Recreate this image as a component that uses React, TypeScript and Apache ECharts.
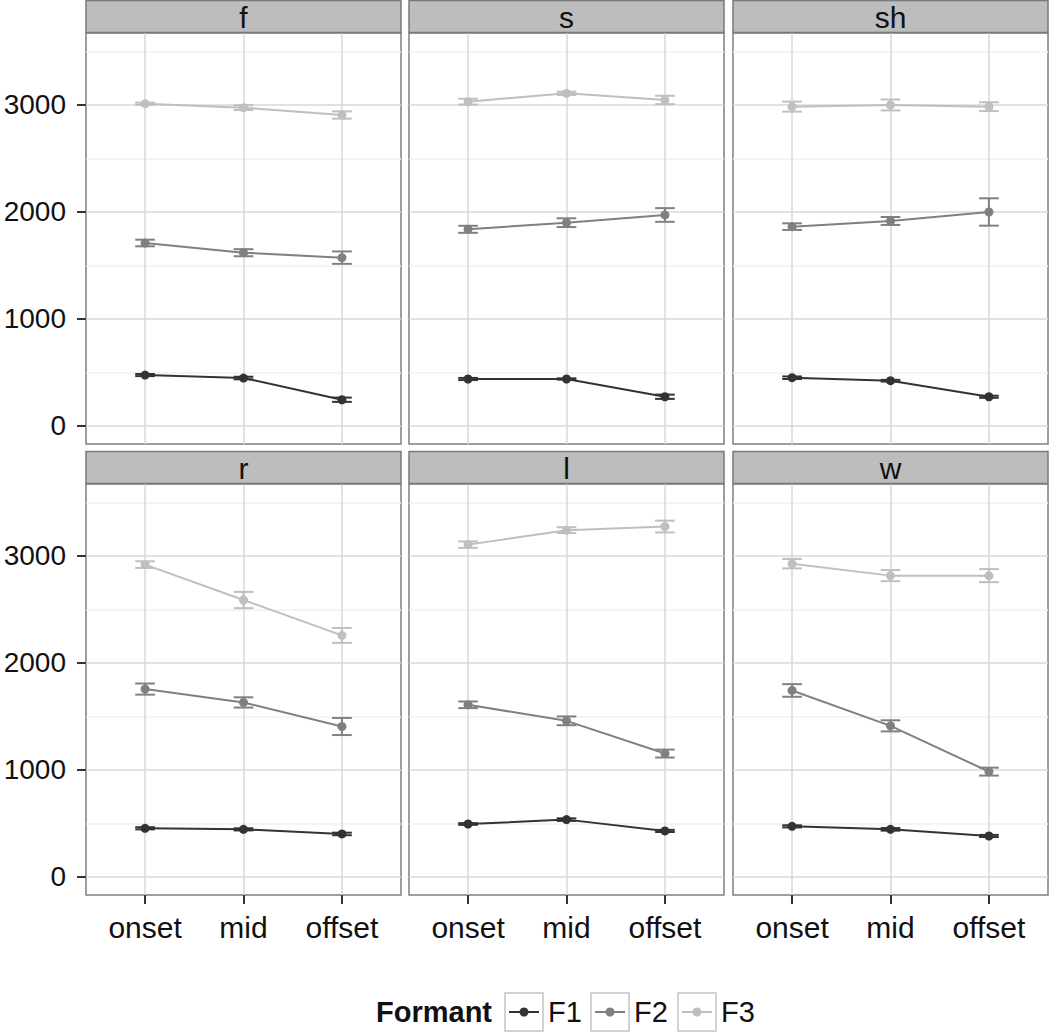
import React, { useEffect, useRef } from "react";
import * as echarts from "echarts";

// ---------- data ----------
const phases = ["onset", "mid", "offset"];
const phaseX = [1, 2, 3];
const consonants = ["f", "s", "sh", "r", "l", "w"];
const formants = ["F1", "F2", "F3"];
const formantColors = ["#333333", "#808080", "#bfbfbf"];
const yTicks = [0, 1000, 2000, 3000];
const yMinor = [500, 1500, 2500, 3500];

// rows: f, s, sh, r, l, w ; columns: onset, mid, offset
const meanF1 = [
  [474, 446, 243],
  [437, 437, 271],
  [449, 421, 271],
  [453, 443, 400],
  [493, 534, 428],
  [471, 443, 381],
];
const errF1 = [
  [10, 12, 20],
  [10, 6, 20],
  [12, 8, 10],
  [10, 10, 12],
  [8, 12, 10],
  [10, 12, 10],
];
const meanF2 = [
  [1709, 1618, 1572],
  [1837, 1899, 1971],
  [1862, 1915, 1999],
  [1755, 1630, 1405],
  [1608, 1458, 1152],
  [1742, 1411, 983],
];
const errF2 = [
  [31, 33, 58],
  [33, 41, 64],
  [31, 37, 128],
  [52, 48, 80],
  [31, 41, 37],
  [59, 52, 37],
];
const meanF3 = [
  [3012, 2975, 2906],
  [3031, 3109, 3047],
  [2984, 3000, 2984],
  [2919, 2588, 2257],
  [3106, 3241, 3275],
  [2928, 2816, 2816],
];
const errF3 = [
  [10, 22, 34],
  [27, 15, 39],
  [47, 51, 41],
  [31, 76, 70],
  [30, 27, 55],
  [44, 52, 61],
];

const means = [meanF1, meanF2, meanF3];
const errs = [errF1, errF2, errF3];

// ---------- layout ----------
const FONT = '"Liberation Sans", Arial, Helvetica, sans-serif';
const FS = 30;
const colLeft = [86, 409, 733];
const panelW = 315;
const rowTop = [33, 484];
const panelH = 411;
const stripH = 32;
const Y_MIN = -171;
const Y_MAX = 3673;

export default function App() {
  const ref = useRef<HTMLDivElement>(null);

  useEffect(() => {
    if (!ref.current) return;
    const chart = echarts.init(ref.current, undefined, { renderer: "svg" });

    const grids: any[] = [];
    const xAxes: any[] = [];
    const yAxes: any[] = [];
    const series: any[] = [];
    const graphics: any[] = [];

    consonants.forEach((c, p) => {
      const row = Math.floor(p / 3);
      const col = p % 3;
      const left = colLeft[col];
      const top = rowTop[row];
      grids.push({
        left,
        top,
        width: panelW,
        height: panelH,
        containLabel: false,
        outerBoundsMode: "none",
        show: true,
        backgroundColor: "#ffffff",
        borderColor: "#7f7f7f",
        borderWidth: 1.5,
      });
      const isBottom = row === 1;
      const isLeft = col === 0;
      xAxes.push({
        type: "value",
        gridIndex: p,
        min: 0.4,
        max: 3.6,
        splitLine: { show: false },
        axisLine: { show: false, onZero: false },
        axisTick: {
          show: isBottom,
          customValues: phaseX,
          length: 9,
          lineStyle: { color: "#333333", width: 2 },
        },
        axisLabel: {
          show: isBottom,
          customValues: phaseX,
          formatter: (v: number) => phases[Math.round(v) - 1] ?? "",
          fontSize: FS,
          fontFamily: FONT,
          color: "#111111",
          margin: 17,
        },
      });
      yAxes.push({
        type: "value",
        gridIndex: p,
        min: Y_MIN,
        max: Y_MAX,
        splitLine: { show: false },
        axisLine: { show: false, onZero: false },
        axisTick: {
          show: isLeft,
          customValues: yTicks,
          length: 9,
          lineStyle: { color: "#333333", width: 2 },
        },
        axisLabel: {
          show: isLeft,
          customValues: yTicks,
          formatter: (v: number) => String(Math.round(v)),
          fontSize: 28,
          fontFamily: FONT,
          color: "#111111",
          margin: 20,
        },
      });

      // grid lines through the library's scales
      const gridLineData: any[] = [];
      yMinor.forEach((v) =>
        gridLineData.push({ yAxis: v, lineStyle: { color: "#f0f0f0", width: 1.5, type: "solid" } })
      );
      yTicks.forEach((v) =>
        gridLineData.push({ yAxis: v, lineStyle: { color: "#d9d9d9", width: 1.5, type: "solid" } })
      );
      phaseX.forEach((v) =>
        gridLineData.push({ xAxis: v, lineStyle: { color: "#d9d9d9", width: 1.5, type: "solid" } })
      );

      formants.forEach((fm, k) => {
        const color = formantColors[k];
        const m = means[k][p];
        const e = errs[k][p];
        series.push({
          type: "custom",
          name: fm,
          xAxisIndex: p,
          yAxisIndex: p,
          z: 2,
          silent: true,
          encode: { x: 0, y: [1, 2] },
          data: phaseX.map((x, i) => [x, m[i] - e[i], m[i] + e[i]]),
          renderItem: (params: any, api: any) => {
            const x = api.value(0);
            const lo = api.value(1);
            const hi = api.value(2);
            const t = api.coord([x, hi]);
            const b = api.coord([x, lo]);
            const half = api.size([0.1, 0])[0];
            const style = { stroke: color, lineWidth: 2, fill: "none" };
            return {
              type: "group",
              children: [
                { type: "line", shape: { x1: t[0], y1: t[1], x2: b[0], y2: b[1] }, style },
                { type: "line", shape: { x1: t[0] - half, y1: t[1], x2: t[0] + half, y2: t[1] }, style },
                { type: "line", shape: { x1: b[0] - half, y1: b[1], x2: b[0] + half, y2: b[1] }, style },
              ],
            };
          },
        });
        series.push({
          type: "line",
          name: fm,
          xAxisIndex: p,
          yAxisIndex: p,
          z: 3,
          silent: true,
          symbol: "circle",
          symbolSize: 9,
          showSymbol: true,
          lineStyle: { color, width: 2 },
          itemStyle: { color },
          data: phaseX.map((x, i) => [x, m[i]]),
          markLine:
            k === 0
              ? {
                  z: 1,
                  silent: true,
                  symbol: ["none", "none"],
                  label: { show: false },
                  emphasis: { disabled: true },
                  data: gridLineData,
                }
              : undefined,
        });
      });

      // strip
      const stripTop = top - stripH - 0.5;
      graphics.push({
        type: "rect",
        silent: true,
        z: 10,
        shape: { x: left, y: stripTop, width: panelW, height: stripH },
        style: { fill: "#bdbdbd", stroke: "#7a7a7a", lineWidth: 1.5 },
      });
      graphics.push({
        type: "text",
        silent: true,
        z: 11,
        x: left + panelW / 2,
        y: stripTop + stripH / 2 + 1,
        style: {
          text: c,
          fill: "#111111",
          fontSize: FS,
          fontFamily: FONT,
          align: "center",
          verticalAlign: "middle",
          textAlign: "center",
          textVerticalAlign: "middle",
        },
      });
    });

    // legend (drawn as graphics)
    const legY = 1012;
    graphics.push({
      type: "text",
      silent: true,
      x: 376,
      y: legY,
      style: {
        text: "Formant",
        fill: "#111111",
        fontSize: 29,
        fontWeight: "bold",
        fontFamily: FONT,
        align: "left",
        verticalAlign: "middle",
        textAlign: "left",
        textVerticalAlign: "middle",
      },
    });
    const boxX = [505, 591, 678];
    formants.forEach((fm, k) => {
      const bx = boxX[k];
      graphics.push({
        type: "rect",
        silent: true,
        shape: { x: bx, y: legY - 19, width: 38, height: 38 },
        style: { fill: "#ffffff", stroke: "#c4c4c4", lineWidth: 1.5 },
      });
      graphics.push({
        type: "line",
        silent: true,
        shape: { x1: bx + 4, y1: legY, x2: bx + 34, y2: legY },
        style: { stroke: formantColors[k], lineWidth: 2 },
      });
      graphics.push({
        type: "circle",
        silent: true,
        shape: { cx: bx + 19, cy: legY, r: 4.5 },
        style: { fill: formantColors[k] },
      });
      graphics.push({
        type: "text",
        silent: true,
        x: bx + 43,
        y: legY,
        style: {
          text: fm,
          fill: "#111111",
          fontSize: 29,
          fontFamily: FONT,
          align: "left",
          verticalAlign: "middle",
          textAlign: "left",
          textVerticalAlign: "middle",
        },
      });
    });

    chart.setOption({
      animation: false,
      backgroundColor: "#ffffff",
      textStyle: { fontFamily: FONT },
      grid: grids,
      xAxis: xAxes,
      yAxis: yAxes,
      series,
      graphic: { elements: graphics },
    });

    return () => chart.dispose();
  }, []);

  return (
    <div
      ref={ref}
      style={{ position: "fixed", left: 0, top: 0, width: 1050, height: 1033 }}
    />
  );
}
